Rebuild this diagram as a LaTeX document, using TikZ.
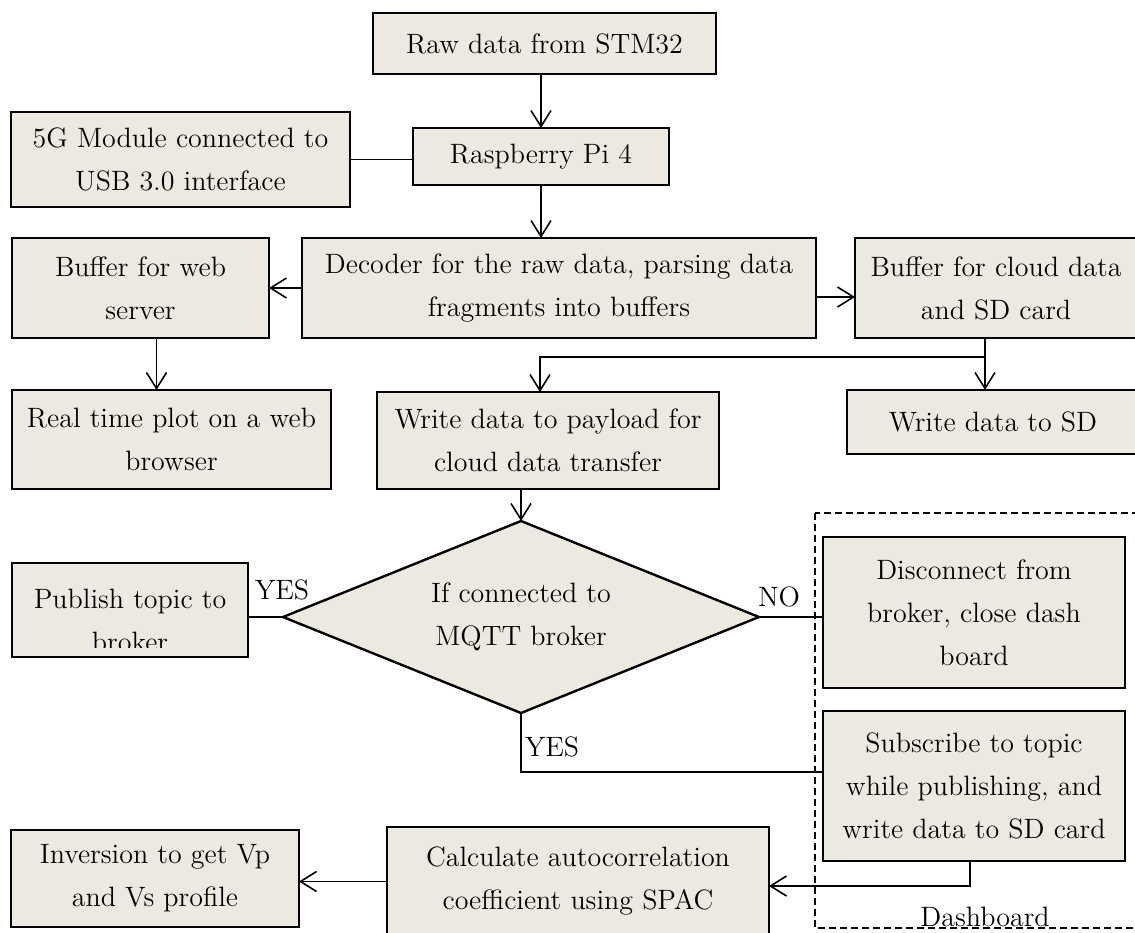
\documentclass[tikz,border=0pt]{standalone}
\usepackage{fontspec}
\usepackage{tikz}
\usetikzlibrary{arrows.meta,shapes.geometric}
\definecolor{boxfill}{RGB}{236,234,224}
\tikzstyle{block} = [draw, line width=1.2pt, fill=boxfill, inner sep=0pt, outer sep=0pt, align=center]
\tikzstyle{decision} = [diamond, aspect=2.5, draw, line width=1.2pt, fill=boxfill, inner sep=0pt, outer sep=0pt, align=center]

\begin{document}
\begin{tikzpicture}[x=0.5pt,y=-0.5pt,>={Straight Barb[length=8pt,width=10pt]},line width=0.8pt,
	every node/.style={font=\fontsize{14}{21.5}\selectfont}]
	\useasboundingbox (0,0) rectangle (1135,932);
	\clip (0,0) rectangle (1135,932);
	\node[block, minimum width=171.5pt, minimum height=30.5pt] (raw) at (544.5,43.5) {Raw data from STM32};
	\node[block, minimum width=128pt, minimum height=28.5pt] (pi) at (541,156.5) {Raspberry Pi 4};
	\node[block, minimum width=169.5pt, minimum height=47.5pt] (module) at (180.5,159.5) {5G Module connected to\\USB 3.0 interface};
	\node[block, minimum width=257pt, minimum height=50pt] (decoder) at (559,288) {Decoder for the raw data, parsing data\\fragments into buffers};
	\node[block, minimum width=128.5pt, minimum height=50pt] (webbuf) at (140.5,288) {Buffer for web\\server};
	\node[block, minimum width=141pt, minimum height=50pt] (cloudbuf) at (996,288) {Buffer for cloud data\\and SD card};
	\node[block, minimum width=159.5pt, minimum height=49.5pt] (plot) at (171.5,439.5) {Real time plot on a web\\browser};
	\node[block, minimum width=171pt, minimum height=48.5pt] (payload) at (548,440.5) {Write data to payload for\\cloud data transfer};
	\node[block, minimum width=146pt, minimum height=32pt] (sdwrite) at (993,422) {Write data to SD};
	\node[decision, minimum width=238pt, minimum height=96pt] (mqtt) at (521,617) {If connected to\\MQTT broker};
	\node[block, minimum width=118pt, minimum height=47pt] (publish) at (130,610) {};
	\begin{scope}
		\clip (12,563) rectangle (248,647);
		\node[align=center] (publishtext) at (130,620) {Publish topic to\\broker};
	\end{scope}
	\node[block, minimum width=151pt, minimum height=75.5pt] (disconnect) at (974,612.5) {Disconnect from\\broker, close dash\\board};
	\node[block, minimum width=151pt, minimum height=75pt] (subscribe) at (974,786) {Subscribe to topic\\while publishing, and\\write data to SD card};
	\node[block, minimum width=191pt, minimum height=54.5pt] (spac) at (578,881.5) {Calculate autocorrelation\\coefficient using SPAC};
	\node[block, minimum width=144pt, minimum height=48.5pt] (inversion) at (155,878.5) {Inversion to get Vp\\and Vs profile};
	\draw[line width=1pt, dash pattern=on 3.5pt off 2pt] (815,513) rectangle (1145,928);
	\node (dashlabel) at (985,917) {Dashboard};

	\draw[->] (pi.north |- raw.south) -- (pi.north);
	\draw (module.east) -- (module.east -| pi.west);
	\draw[->] (pi.south) -- (pi.south |- decoder.north);
	\draw[->] (decoder.west) -- (decoder.west -| webbuf.east);
	\draw[->] ([yshift=-4.5pt]decoder.east) -- ([yshift=-4.5pt]decoder.east -| cloudbuf.west);
	\draw[->] ([xshift=8pt]webbuf.south) -- ([xshift=8pt]webbuf.south |- plot.north);
	\coordinate (split) at (985,357);
	\draw (cloudbuf.south -| split) -- (split);
	\draw[->] (split) -| ([xshift=-4pt]payload.north);
	\draw[->] (split) -- (split |- sdwrite.north);
	\draw[->] (mqtt.north |- payload.south) -- (mqtt.north);
	\draw (mqtt.west -| publish.east) -- (mqtt.west);
	\draw (mqtt.east) -- (mqtt.east -| disconnect.west);
	\draw (mqtt.south) |- ([yshift=7pt]subscribe.west);
	\draw[->] ([xshift=-2pt]subscribe.south) |- ([yshift=-2.25pt]spac.east);
	\draw[->] (spac.west) -- (spac.west -| inversion.east);
	\node (yesleft) at (282,590) {YES};
	\node (no) at (779,597) {NO};
	\node (yesdown) at (552,747) {YES};
\end{tikzpicture}
\end{document}
